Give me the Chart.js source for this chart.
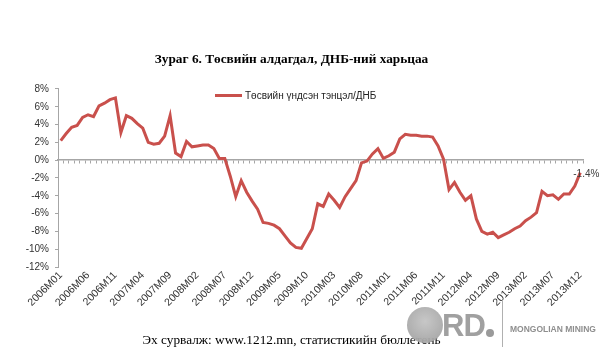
<!DOCTYPE html>
<html>
<head>
<meta charset="utf-8">
<script src="https://cdn.jsdelivr.net/npm/chart.js@4.4.0/dist/chart.umd.min.js"></script>
<style>
  body { margin: 0; background: #fff; }
  #wrap { position: relative; width: 610px; height: 358px; overflow: hidden; }
  #wrap canvas { position: absolute; left: 0; top: 0; }
  .legend { position: absolute; left: 215px; top: 90px; font: 10px "Liberation Sans", Arial, sans-serif; color: #222; display: flex; align-items: center; white-space: nowrap; }
  .legend .swatch { display: inline-block; width: 27px; height: 3px; margin-right: 3px; }
  .source { position: absolute; left: 0; width: 583px; top: 332px; text-align: center; font: 13.3px "Liberation Serif", "Times New Roman", serif; color: #000; white-space: nowrap; }
  .logo-ring { position: absolute; left: 407px; top: 307px; width: 36px; height: 36px; border-radius: 50%; background: radial-gradient(circle at 50% 40%, #c4c4c4, #9c9c9c); opacity: 0.95; }
  .logo-rd { position: absolute; left: 442px; top: 308px; font: bold 31px "Liberation Sans", Arial, sans-serif; color: #a0a0a0; letter-spacing: -1px; }
  .logo-dot { position: absolute; left: 486px; top: 329px; width: 8px; height: 8px; border-radius: 50%; background: #9a9a9a; }
  .logo-bar { position: absolute; left: 502px; top: 300px; width: 1px; height: 47px; background: #b0b0b0; }
  .logo-text { position: absolute; left: 510px; top: 324px; font: bold 8.5px "Liberation Sans", Arial, sans-serif; color: #8e8e8e; white-space: nowrap; }
</style>
</head>
<body>
<div id="wrap">
  <canvas id="fiscalChart" width="610" height="358"></canvas>
  <div class="legend" id="legend"></div>
  <div class="source">Эх сурвалж: www.1212.mn, статистикийн бюллетень</div>
  <div class="logo-ring"></div>
  <div class="logo-rd">RD</div>
  <div class="logo-dot"></div>
  <div class="logo-bar"></div>
  <div class="logo-text">MONGOLIAN MINING</div>
</div>
<script>
// Budget balance / GDP, monthly 2006M01 - 2013M12
const years = [2006, 2007, 2008, 2009, 2010, 2011, 2012, 2013];
const monthCodes = ['01', '02', '03', '04', '05', '06', '07', '08', '09', '10', '11', '12'];

const bal2006 = [2.2, 3.0, 3.7, 3.9, 4.8, 5.1, 4.9, 6.1, 6.4, 6.8, 7.0, 3.1];
const bal2007 = [5.0, 4.7, 4.1, 3.6, 2.0, 1.8, 1.9, 2.7, 5.0, 0.8, 0.4, 2.1];
const bal2008 = [1.5, 1.6, 1.7, 1.7, 1.3, 0.2, 0.2, -1.8, -4.1, -2.3, -3.6, -4.6];
const bal2009 = [-5.5, -7.0, -7.1, -7.3, -7.7, -8.5, -9.3, -9.8, -9.9, -8.8, -7.7, -4.9];
const bal2010 = [-5.2, -3.8, -4.5, -5.3, -4.1, -3.2, -2.3, -0.3, -0.1, 0.7, 1.3, 0.2];
const bal2011 = [0.5, 0.9, 2.4, 2.9, 2.8, 2.8, 2.7, 2.7, 2.6, 1.6, 0.1, -3.3];
const bal2012 = [-2.5, -3.6, -4.5, -4.0, -6.6, -8.0, -8.3, -8.1, -8.7, -8.4, -8.1, -7.7];
const bal2013 = [-7.4, -6.8, -6.4, -5.9, -3.5, -4.0, -3.9, -4.4, -3.8, -3.8, -2.9, -1.4];

const seriesName = 'Төсвийн үндсэн тэнцэл/ДНБ';
const chartTitle = 'Зураг 6. Төсвийн алдагдал, ДНБ-ний харьцаа';
const lastLabel = '-1.4%';
const yTicks = { min: -12, max: 8, step: 2 };

const LINE_COLOR = '#c9504c';
const AXIS_COLOR = '#a6a6a6';

const labels = [];
years.forEach(y => monthCodes.forEach(m => labels.push(y + 'M' + m)));
const values = [].concat(bal2006, bal2007, bal2008, bal2009, bal2010, bal2011, bal2012, bal2013);

// label at the end of the line
const endLabel = {
  id: 'endLabel',
  afterDatasetsDraw(chart) {
    const meta = chart.getDatasetMeta(0);
    const pt = meta.data[meta.data.length - 1];
    if (!pt) return;
    const ctx = chart.ctx;
    ctx.save();
    ctx.font = '10px "Liberation Sans", Arial, sans-serif';
    ctx.fillStyle = '#404040';
    ctx.textAlign = 'left';
    ctx.textBaseline = 'middle';
    ctx.fillText(lastLabel, pt.x - 7, pt.y + 2);
    ctx.restore();
  }
};

const chart = new Chart(document.getElementById('fiscalChart').getContext('2d'), {
  type: 'line',
  data: {
    labels: labels,
    datasets: [{
      label: seriesName,
      data: values,
      borderColor: LINE_COLOR,
      backgroundColor: LINE_COLOR,
      borderWidth: 3,
      pointRadius: 0,
      tension: 0,
      fill: false
    }]
  },
  options: {
    responsive: false,
    animation: false,
    layout: { padding: { top: 20, right: 27, bottom: 0, left: 0 } },
    plugins: {
      legend: { display: false },
      tooltip: { enabled: false },
      title: {
        display: true,
        text: chartTitle,
        color: '#000',
        font: { family: '"Liberation Serif", "Times New Roman", serif', size: 13.3, weight: 'bold' },
        padding: { top: 32, bottom: 21 }
      }
    },
    scales: {
      x: {
        type: 'category',
        position: 'bottom',
        offset: true,
        grid: { display: false, drawTicks: false },
        border: { display: false },
        ticks: {
          autoSkip: false,
          maxRotation: 45,
          minRotation: 45,
          padding: 2,
          color: '#333',
          font: { family: '"Liberation Sans", Arial, sans-serif', size: 10.5 },
          callback(v, i) { return i % 5 === 0 ? this.getLabelForValue(v) : ''; }
        },
        afterFit(s) { s.height = 91; }
      },
      x0: {
        type: 'category',
        position: { y: 0 },
        offset: true,
        grid: { offset: true, drawOnChartArea: false, tickLength: 3, color: AXIS_COLOR },
        border: { color: AXIS_COLOR, width: 1.5 },
        ticks: { display: false, autoSkip: false },
        afterFit(s) { s.height = 0; }
      },
      y: {
        min: yTicks.min,
        max: yTicks.max,
        grid: { drawOnChartArea: false, tickLength: 3, color: AXIS_COLOR },
        border: { color: AXIS_COLOR },
        ticks: {
          stepSize: yTicks.step,
          padding: 6,
          color: '#333',
          font: { family: '"Liberation Sans", Arial, sans-serif', size: 10 },
          callback: v => v + '%'
        },
        afterFit(s) { s.width = 58; }
      }
    }
  },
  plugins: [endLabel]
});

// legend built from the dataset
const ds = chart.data.datasets[0];
document.getElementById('legend').innerHTML =
  '<span class="swatch" style="background:' + ds.borderColor + '"></span>' + ds.label;
</script>
</body>
</html>
